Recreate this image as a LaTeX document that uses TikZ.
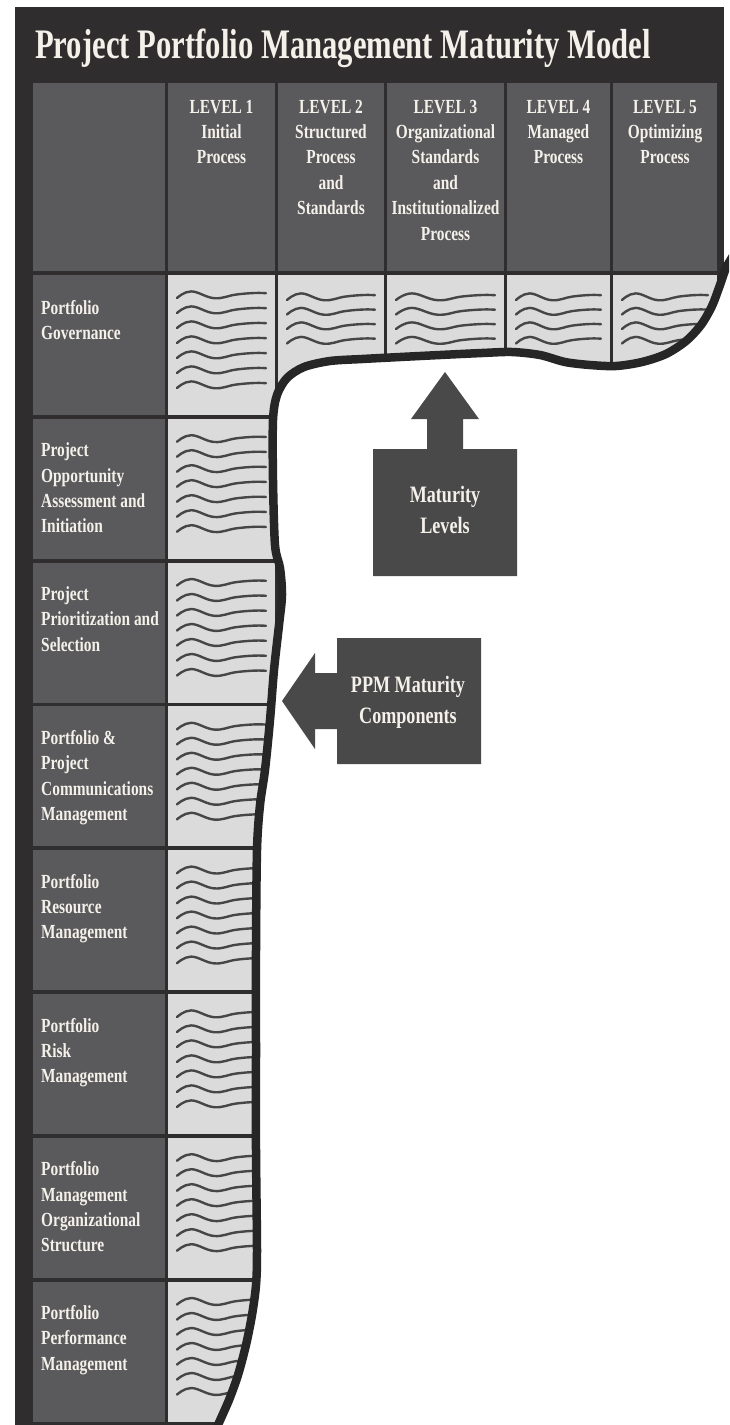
\documentclass[tikz,border=0pt]{standalone}
\usepackage{fontspec}
\setmainfont{Liberation Serif}[FakeStretch=0.77]
\newfontfamily\titlefont{Liberation Serif}[FakeStretch=0.73]

\definecolor{framecol}{HTML}{2F2D2E}
\definecolor{midcol}{HTML}{5A595B}
\definecolor{lightcol}{HTML}{DBDBDB}
\definecolor{wavecol}{HTML}{464646}
\definecolor{torncol}{HTML}{262626}
\definecolor{arrowcol}{HTML}{4A494A}
\definecolor{txtcol}{HTML}{F4F1EA}

% one hand-drawn "text" squiggle: left x, y, width
\newcommand{\wavyline}[3]{%
  \draw[waveline] plot[smooth, tension=0.7] coordinates {
    ({(#1)},{(#2)+3.0})
    ({(#1)+0.16*(#3)},{(#2)-3.6})
    ({(#1)+0.42*(#3)},{(#2)+3.2})
    ({(#1)+0.66*(#3)},{(#2)-0.4})
    ({(#1)+0.87*(#3)},{(#2)-2.0})
    ({(#1)+(#3)},{(#2)-1.8})};}

\begin{document}
\begin{tikzpicture}[x=1pt, y=-1pt,
  midcell/.style={fill=midcol},
  lightcell/.style={fill=lightcol},
  waveline/.style={draw=wavecol, line width=2.4pt, line cap=round},
  tornline/.style={draw=torncol, line width=8.5pt, line join=round, line cap=round},
  arrowshape/.style={fill=arrowcol},
  lab/.style={anchor=base west, inner sep=0pt, text=txtcol,
    font=\bfseries\fontsize{20}{25.3}\selectfont},
  hdr/.style={anchor=base, inner sep=0pt, text=txtcol,
    font=\bfseries\fontsize{20}{25.4}\selectfont},
  callout/.style={anchor=base, inner sep=0pt, text=txtcol,
    font=\bfseries\fontsize{23.5}{31}\selectfont}]

\useasboundingbox (0,0) rectangle (729,1425);
\clip (0,0) rectangle (729,1425);
\fill[white] (0,0) rectangle (729,1425);

% dark frame behind the whole table
\fill[framecol] (15,7) rectangle (724,1440);

% header row
\fill[midcell] (33,83) rectangle (165,271);
\foreach \a/\b in {168/275, 278/384, 387/504, 507/610, 613/717}
  \fill[midcell] (\a,83) rectangle (\b,271);

% component rows: label cell + level 1 cell
\foreach \i in {0,...,7} {
  \pgfmathsetmacro\rt{275+\i*143.8}
  \fill[midcell] (33,\rt) rectangle (165,\rt+140);
  \fill[lightcell] (168,\rt) rectangle (275,\rt+140);
  \foreach \k in {0,...,6} {\wavyline{177}{\rt+20+\k*15}{89}}
}

% first row, levels 2 to 5
\foreach \a/\b in {278/384, 387/504, 507/610, 613/717} {
  \fill[lightcell] (\a,275) rectangle (\b,415);
  \foreach \k in {0,...,3} {\wavyline{\a+9}{297+\k*14.5}{\b-\a-18}}
}

% torn-away part of the table
\fill[white] plot[smooth, tension=0.5] coordinates {
  (742,242) (727,266) (720,285) (712,306) (701,325) (686,341) (666,354)
  (642,362) (616,366) (590,365) (565,362) (540,355) (512,352) (482,353)
  (440,355) (400,357) (362,359) (330,361) (304,367) (287,378) (277,395)
  (273,420) (273,480) (275,545) (280,568) (282,595) (279,625) (274,670)
  (270,720) (265,770) (260,805) (257,850) (256,950) (256,1050) (256,1150)
  (257,1250) (256,1285) (252,1315) (246,1345) (238,1375) (229,1400)
  (218,1425) (210,1445)}
  -- (760,1460) -- (760,230) -- cycle;
\draw[tornline] plot[smooth, tension=0.5] coordinates {
  (742,242) (727,266) (720,285) (712,306) (701,325) (686,341) (666,354)
  (642,362) (616,366) (590,365) (565,362) (540,355) (512,352) (482,353)
  (440,355) (400,357) (362,359) (330,361) (304,367) (287,378) (277,395)
  (273,420) (273,480) (275,545) (280,568) (282,595) (279,625) (274,670)
  (270,720) (265,770) (260,805) (257,850) (256,950) (256,1050) (256,1150)
  (257,1250) (256,1285) (252,1315) (246,1345) (238,1375) (229,1400)
  (218,1425) (210,1445)};

% callout arrows
\fill[arrowshape] (373,576) -- (373,449) -- (427,449) -- (427,419) -- (411,419)
  -- (445,372) -- (479,419) -- (463,419) -- (463,449) -- (517,449) -- (517,576) -- cycle;
\fill[arrowshape] (481,638) -- (337,638) -- (337,673) -- (315,673) -- (315,653)
  -- (282,701) -- (315,749) -- (315,729) -- (337,729) -- (337,764) -- (481,764) -- cycle;

% title
\node[anchor=base west, inner sep=0pt, text=txtcol,
  font=\titlefont\bfseries\fontsize{42}{42}\selectfont] (title) at (35,58)
  {Project Portfolio Management Maturity Model};

% level headings
\node[hdr] (lv1) at (221.5,113) {\parbox[t]{130pt}{\centering LEVEL 1\\Initial\\Process}};
\node[hdr] (lv2) at (331,113) {\parbox[t]{130pt}{\centering LEVEL 2\\Structured\\Process\\and\\Standards}};
\node[hdr] (lv3) at (445.5,113) {\parbox[t]{130pt}{\centering LEVEL 3\\Organizational\\Standards\\and\\Institutionalized\\Process}};
\node[hdr] (lv4) at (558.5,113) {\parbox[t]{130pt}{\centering LEVEL 4\\Managed\\Process}};
\node[hdr] (lv5) at (665,113) {\parbox[t]{130pt}{\centering LEVEL 5\\Optimizing\\Process}};

% component labels
\node[lab] (c1) at (41,314) {\parbox[t]{200pt}{\raggedright Portfolio\\Governance}};
\node[lab] (c2) at (41,456.8) {\parbox[t]{200pt}{\raggedright Project\\Opportunity\\Assessment and\\Initiation}};
\node[lab] (c3) at (41,600.6) {\parbox[t]{200pt}{\raggedright Project\\Prioritization and\\Selection}};
\node[lab] (c4) at (41,744.4) {\parbox[t]{200pt}{\raggedright Portfolio \&\\Project\\Communications\\Management}};
\node[lab] (c5) at (41,888.2) {\parbox[t]{200pt}{\raggedright Portfolio\\Resource\\Management}};
\node[lab] (c6) at (41,1032) {\parbox[t]{200pt}{\raggedright Portfolio\\Risk\\Management}};
\node[lab] (c7) at (41,1175.8) {\parbox[t]{200pt}{\raggedright Portfolio\\Management\\Organizational\\Structure}};
\node[lab] (c8) at (41,1319.6) {\parbox[t]{200pt}{\raggedright Portfolio\\Performance\\Management}};

% callout texts
\node[callout] (levels) at (445,502) {\parbox[t]{140pt}{\centering Maturity\\Levels}};
\node[callout] (components) at (408,692) {\parbox[t]{140pt}{\centering PPM Maturity\\Components}};

\end{tikzpicture}
\end{document}
